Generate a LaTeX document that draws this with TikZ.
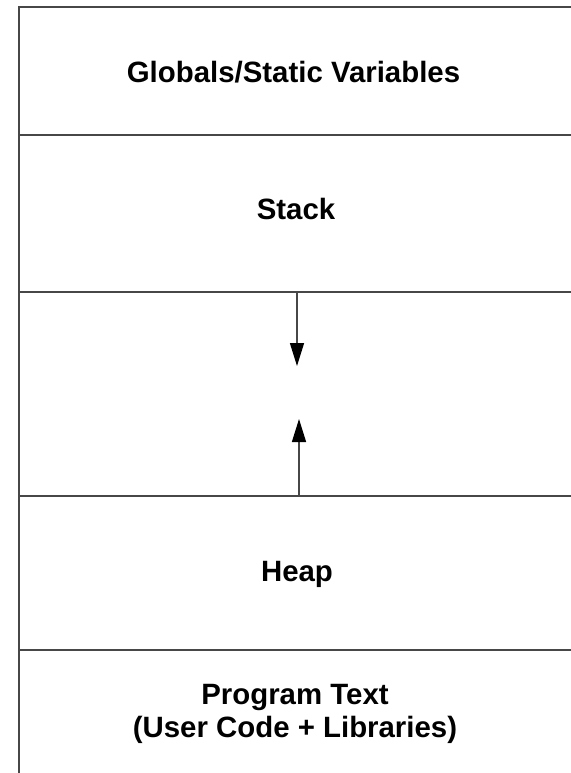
\documentclass[tikz,border=0pt]{standalone}
\usepackage{fontspec}
\setmainfont{Liberation Sans}
\usetikzlibrary{arrows.meta}
\begin{document}
\begin{tikzpicture}[x=1bp,y=-1bp,
  seg/.style={line width=1.4bp, draw=black!72},
  label/.style={font=\fontsize{29.5}{33}\selectfont\bfseries, inner sep=0pt, text=black},
  growarrow/.style={seg, -{Triangle[length=23bp,width=14bp,color=black]}}]
\useasboundingbox (0,0) rectangle (571,773);
% frame lines
\coordinate (tl) at (19,7);
\coordinate (tr) at (571,7);
\coordinate (bl) at (19,773);
\draw[seg] (bl) -- (tl) -- (tr);
\foreach \yy/\nm in {135/a,292/b,496/c,650/d}{
  \coordinate (\nm l) at (19,\yy);
  \coordinate (\nm r) at (571,\yy);
  \draw[seg] (\nm l) -- (\nm r);
}
% labels
\node[label, anchor=base] (globals) at (293.5,82) {Globals/Static Variables};
\node[label, anchor=base] (stack) at (296,219) {Stack};
\node[label, anchor=base] (heap) at (297,581) {Heap};
\node[label, align=center] (text) at (295,714) {Program Text\\(User Code + Libraries)};
% arrows
\coordinate (stacktop) at (297,292);
\coordinate (stacktip) at (297,366);
\coordinate (heapbot) at (299,496);
\coordinate (heaptip) at (299,419);
\draw[growarrow] (stacktop) -- (stacktip);
\draw[growarrow] (heapbot) -- (heaptip);
\end{tikzpicture}
\end{document}
